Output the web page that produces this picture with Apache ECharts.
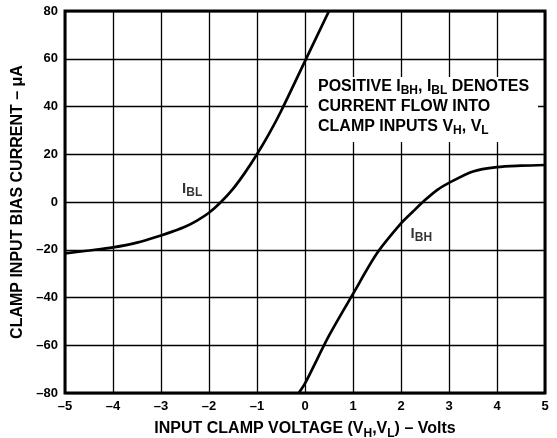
<!DOCTYPE html>
<html><head><meta charset="utf-8">
<script src="https://cdn.jsdelivr.net/npm/echarts@6/dist/echarts.min.js"></script>
<style>html,body{margin:0;padding:0;background:#fff}#c{width:557px;height:438px}</style>
</head><body><div id="c"></div>
<script>
var xTicks = [-5,-4,-3,-2,-1,0,1,2,3,4,5];
var yTicks = [-80,-60,-40,-20,0,20,40,60,80];
var iblX = [-5,-4.5,-4,-3.5,-3,-2.75,-2.5,-2.25,-2,-1.75,-1.5,-1.25,-1,-0.75,-0.5,0,0.5];
var iblY = [-21.5,-20.3,-19,-17,-14,-12.3,-10.4,-7.8,-4.5,0,5.5,12.3,20,28.5,38,59,80];
var ibhX = [-0.13,0,0.5,1,1.5,2,2.25,2.5,2.75,3,3.5,4,4.5,5];
var ibhY = [-80,-76,-56,-38.5,-21.5,-9,-4,0.8,5,8,12.8,14.6,15.2,15.5];
var curveLabels = [{x:-2.56,y:5.5,main:'I',sub:'BL'},{x:2.2,y:-13.3,main:'I',sub:'BH'}];
var noteLines = ['POSITIVE I{s|BH}, I{s|BL} DENOTES','CURRENT FLOW INTO','CLAMP INPUTS V{s|H}, V{s|L}'];
var xTitle = 'INPUT CLAMP VOLTAGE (V{s|H},V{s|L}) – Volts';
var yTitle = 'CLAMP INPUT BIAS CURRENT – μA';

var FONT = 'Liberation Sans, Arial, Helvetica, sans-serif';
function zip(xs, ys){ return xs.map(function(v,i){return [v, ys[i]];}); }
function dash(v){ return String(v).replace('-', '–'); }
var subStyle = {fontFamily:FONT,fontWeight:'bold',fontSize:12,color:'#000',lineHeight:12,verticalAlign:'bottom'};
var chart = echarts.init(document.getElementById('c'));
chart.setOption({
  animation:false,
  backgroundColor:'#fff',
  grid:{left:65,right:12,top:11,bottom:45,outerBoundsMode:'none',containLabel:false,show:true,borderColor:'#000',borderWidth:3,z:5},
  xAxis:{type:'value',min:xTicks[0],max:xTicks[xTicks.length-1],interval:1,
    axisLine:{show:false},axisTick:{show:false},
    splitLine:{lineStyle:{color:'#000',width:1.3}},
    axisLabel:{color:'#000',fontFamily:FONT,fontWeight:'bold',fontSize:13,margin:7,formatter:dash},
    name:xTitle,nameLocation:'middle',nameGap:17,
    nameTextStyle:{color:'#000',fontFamily:FONT,fontWeight:'bold',fontSize:16,lineHeight:22,verticalAlign:'top',rich:{s:subStyle}}},
  yAxis:{type:'value',min:yTicks[0],max:yTicks[yTicks.length-1],interval:20,
    axisLine:{show:false},axisTick:{show:false},
    splitLine:{lineStyle:{color:'#000',width:1.3}},
    axisLabel:{color:'#000',fontFamily:FONT,fontWeight:'bold',fontSize:13,margin:7,formatter:dash},
    name:yTitle,nameLocation:'middle',nameGap:38,
    nameTextStyle:{color:'#000',fontFamily:FONT,fontWeight:'bold',fontSize:16}},
  series:[
    {type:'line',data:zip(iblX,iblY),smooth:0.3,symbol:'none',z:6,
      lineStyle:{color:'#000',width:2.7}},
    {type:'line',data:zip(ibhX,ibhY),smooth:0.3,symbol:'none',z:6,
      lineStyle:{color:'#000',width:2.7}},
    {type:'scatter',symbolSize:0,z:7,
      data:curveLabels.map(function(l){return {value:[l.x,l.y],name:l.main+'{s|'+l.sub+'}'};}),
      label:{show:true,position:'right',distance:0,formatter:function(p){return p.name;},
        color:'#000',fontFamily:FONT,fontWeight:'bold',fontSize:15,lineHeight:20,rich:{s:subStyle}}}
  ],
  graphic:[
    {type:'rect',left:308,top:77,shape:{width:230,height:65},style:{fill:'#fff'},z:4},
    {type:'text',left:318,top:77,z:8,style:{text:noteLines.join('\n'),fill:'#000',
      font:'bold 16px '+FONT,lineHeight:20,
      rich:{s:{font:'bold 12px '+FONT,fill:'#000',lineHeight:12,verticalAlign:'bottom'}}}}
  ]
});
</script></body></html>
